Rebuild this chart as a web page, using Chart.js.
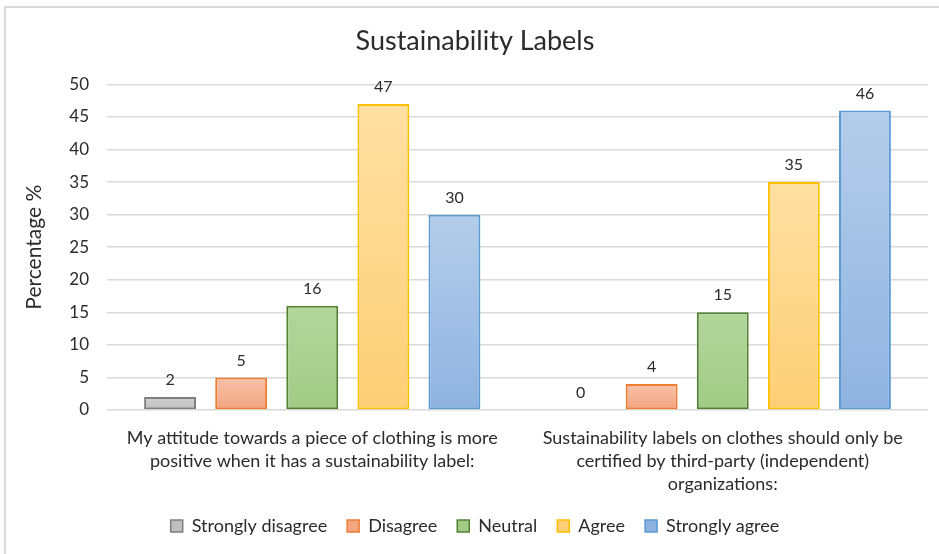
<!DOCTYPE html>
<html>
<head>
<meta charset="utf-8">
<script src="https://cdn.jsdelivr.net/npm/chart.js@4.4.1/dist/chart.umd.min.js"></script>
<style>
  html, body { margin: 0; padding: 0; background: #ffffff; }
  #wrap { position: relative; width: 939px; height: 554px; overflow: hidden; }
  #frame { position: absolute; left: 4px; top: 6px; width: 1200px; height: 900px;
           border: 2px solid #d9d9d9; box-sizing: border-box; }
  canvas { position: absolute; left: 0; top: 0; }
</style>
</head>
<body>
<div id="wrap">
  <div id="frame"></div>
  <canvas id="chart" width="939" height="554"></canvas>
</div>
<script>
// Survey statements (x categories, wrapped into lines)
const categories = [
  ["My attitude towards a piece of clothing is more", "positive when it has a sustainability label:"],
  ["Sustainability labels on clothes should only be", "certified by third-party (independent)", "organizations:"]
];

// Answer options
const seriesNames = ["Strongly disagree", "Disagree", "Neutral", "Agree", "Strongly agree"];

// Share of respondents (%) per answer option, one value per statement
const stronglyDisagree = [2, 0];
const disagree = [5, 4];
const neutral = [16, 15];
const agree = [47, 35];
const stronglyAgree = [30, 46];

// Y axis range
const yMin = 0;
const yMax = 50;
const yStep = 5;

// Fill gradients (top, bottom) and outline colours per answer option
const fillTop = ["#d2d2d2", "#f7c2a9", "#b3d69b", "#fee0a2", "#b5cdea"];
const fillBottom = ["#bfbfbf", "#f3a480", "#a2cb86", "#fdcf76", "#8fb3e0"];
const outline = ["#7f7f7f", "#ed7d31", "#548235", "#ffc000", "#5b9bd5"];

const seriesValues = [stronglyDisagree, disagree, neutral, agree, stronglyAgree];

const FONT = "Lato, 'Open Sans', sans-serif";
const TEXT = "#2b2b2b";

// Vertical gradient spanning each bar from its base to its top
function barGradient(i) {
  return function (context) {
    const chart = context.chart;
    const yScale = chart.scales && chart.scales.y;
    if (!chart.chartArea || !yScale || context.type !== "data") return fillBottom[i];
    const v = context.raw;
    const top = yScale.getPixelForValue(v);
    const base = yScale.getPixelForValue(0);
    if (Math.abs(base - top) < 1) return fillBottom[i];
    const g = chart.ctx.createLinearGradient(0, base, 0, top);
    g.addColorStop(0, fillBottom[i]);
    g.addColorStop(1, fillTop[i]);
    return g;
  };
}

// Value labels above each bar
const valueLabels = {
  id: "valueLabels",
  afterDatasetsDraw(chart) {
    const ctx = chart.ctx;
    ctx.save();
    ctx.font = "16px " + FONT;
    ctx.fillStyle = TEXT;
    ctx.textAlign = "center";
    ctx.textBaseline = "bottom";
    chart.data.datasets.forEach((ds, di) => {
      const meta = chart.getDatasetMeta(di);
      meta.data.forEach((bar, idx) => {
        ctx.fillText(String(ds.data[idx]), bar.x, bar.y - 9);
      });
    });
    ctx.restore();
  }
};

const datasets = seriesNames.map((name, i) => ({
  label: name,
  data: seriesValues[i],
  backgroundColor: barGradient(i),
  borderColor: outline[i],
  borderWidth: 2,
  borderSkipped: false,
  categoryPercentage: 0.866,
  barPercentage: 0.73
}));

new Chart(document.getElementById("chart"), {
  type: "bar",
  data: { labels: categories, datasets: datasets },
  options: {
    responsive: false,
    animation: false,
    layout: { padding: { left: 22, right: 11, top: 0, bottom: 9 } },
    plugins: {
      title: {
        display: true,
        text: "Sustainability Labels",
        color: TEXT,
        font: { family: FONT, size: 27, weight: "normal" },
        padding: { top: 25, bottom: 27 }
      },
      legend: {
        position: "bottom",
        labels: {
          color: TEXT,
          font: { family: FONT, size: 18 },
          boxWidth: 12,
          boxHeight: 12,
          padding: 20,
          generateLabels(chart) {
            return chart.data.datasets.map((ds, i) => ({
              text: ds.label,
              fillStyle: fillBottom[i],
              strokeStyle: outline[i],
              lineWidth: 1.5,
              hidden: false,
              datasetIndex: i,
              fontColor: TEXT
            }));
          }
        }
      },
      tooltip: { enabled: false }
    },
    scales: {
      x: {
        grid: { display: false },
        border: { display: false },
        ticks: {
          color: TEXT,
          font: { family: FONT, size: 18, lineHeight: 1.28 },
          padding: 9,
          maxRotation: 0,
          autoSkip: false
        },
        afterFit(scale) { scale.height = 87; }
      },
      y: {
        min: yMin,
        max: yMax,
        grid: { color: "#d9d9d9", lineWidth: 1.5, drawTicks: false },
        border: { display: false },
        ticks: {
          stepSize: yStep,
          color: TEXT,
          font: { family: FONT, size: 17 },
          padding: 18
        },
        title: {
          display: true,
          text: "Percentage %",
          color: TEXT,
          font: { family: FONT, size: 21 },
          padding: { top: 0, bottom: 0 }
        },
        afterFit(scale) { scale.width = 85; }
      }
    }
  },
  plugins: [valueLabels]
});
</script>
</body>
</html>
